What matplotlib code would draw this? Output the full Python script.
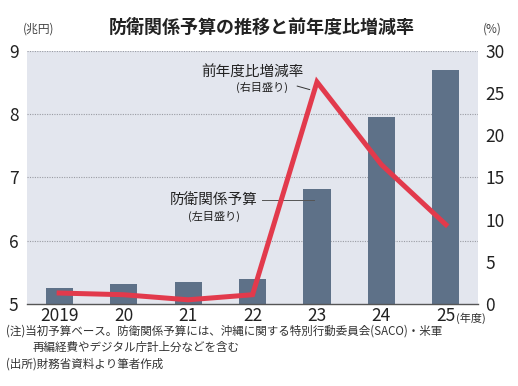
import numpy as np
import matplotlib.pyplot as plt

plt.rcParams['font.family'] = ['Noto Sans CJK JP', 'DejaVu Sans']

# データ
years = ['2019', '20', '21', '22', '23', '24', '25']
budget = [5.26, 5.31, 5.34, 5.40, 6.82, 7.95, 8.70]       # 兆円(左目盛り)
growth = [1.3, 1.1, 0.5, 1.1, 26.3, 16.5, 9.4]            # %(右目盛り)

bar_color = '#5e7188'
line_color = '#e23a4c'
bg_color = '#e3e6ee'

fig = plt.figure(figsize=(5.18, 3.86), dpi=100)
fig.patch.set_facecolor('white')
ax = fig.add_axes([0.052, 0.2124, 0.871, 0.6563])
ax.set_facecolor(bg_color)

x = np.arange(len(years))
ax.bar(x, [b - 5 for b in budget], bottom=5, width=0.42, color=bar_color, zorder=2)
ax.set_ylim(5, 9)
ax.set_xlim(-0.5, 6.5)
ax.set_yticks([5, 6, 7, 8, 9])
ax.set_yticklabels(['5', '6', '7', '8', '9'])
for yv in [6, 7, 8, 9]:
    ax.axhline(yv, color='#9a9ca3', lw=0.8, ls=(0, (1, 1.2)), zorder=1)

ax.set_xticks(x)
ax.set_xticklabels(years)
ax.tick_params(axis='both', length=0, labelsize=12.5, colors='#222222')
ax.tick_params(axis='y', pad=6)
ax.tick_params(axis='x', pad=2)
for s in ['top', 'left', 'right']:
    ax.spines[s].set_visible(False)
ax.spines['bottom'].set_color('#555555')
ax.spines['bottom'].set_linewidth(1.0)

ax2 = ax.twinx()
ax2.plot(x, growth, color=line_color, lw=3.6, solid_joinstyle='miter', zorder=3)
ax2.set_ylim(0, 30)
ax2.set_yticks([0, 5, 10, 15, 20, 25, 30])
ax2.tick_params(axis='y', length=0, labelsize=12.5, colors='#222222', pad=5)
for s in ['top', 'left', 'right', 'bottom']:
    ax2.spines[s].set_visible(False)

# 注記
ax2.text(3.0, 27.4, '前年度比増減率', ha='center', va='center', fontsize=10.5, color='#222222')
ax2.text(3.15, 25.6, '(右目盛り)', ha='center', va='center', fontsize=8, color='#222222')
ax2.annotate('', xy=(3.93, 25.3), xytext=(3.65, 25.9),
             arrowprops=dict(arrowstyle='-', color='#333333', lw=0.7))
ax.text(2.4, 6.64, '防衛関係予算', ha='center', va='center', fontsize=10.5, color='#222222')
ax.text(2.4, 6.38, '(左目盛り)', ha='center', va='center', fontsize=8, color='#222222')
ax.plot([3.15, 3.95], [6.64, 6.64], color='#555555', lw=0.7, zorder=4)

fig.text(0.075, 0.925, '(兆円)', ha='center', va='center', fontsize=8.5, color='#444444')
fig.text(0.95, 0.925, '(%)', ha='center', va='center', fontsize=8.5, color='#444444')
fig.text(0.505, 0.928, '防衛関係予算の推移と前年度比増減率', ha='center', va='center',
         fontsize=13, fontweight='bold', color='#222222')
fig.text(0.880, 0.176, '(年度)', ha='left', va='center', fontsize=8, color='#333333')

fig.text(0.012, 0.143, '(注)当初予算ベース。防衛関係予算には、沖縄に関する特別行動委員会(SACO)・米軍',
         ha='left', va='center', fontsize=8.3, color='#333333')
fig.text(0.062, 0.100, '再編経費やデジタル庁計上分などを含む',
         ha='left', va='center', fontsize=8.3, color='#333333')
fig.text(0.012, 0.057, '(出所)財務省資料より筆者作成',
         ha='left', va='center', fontsize=8.3, color='#333333')

fig.savefig('out.png', dpi=100)
